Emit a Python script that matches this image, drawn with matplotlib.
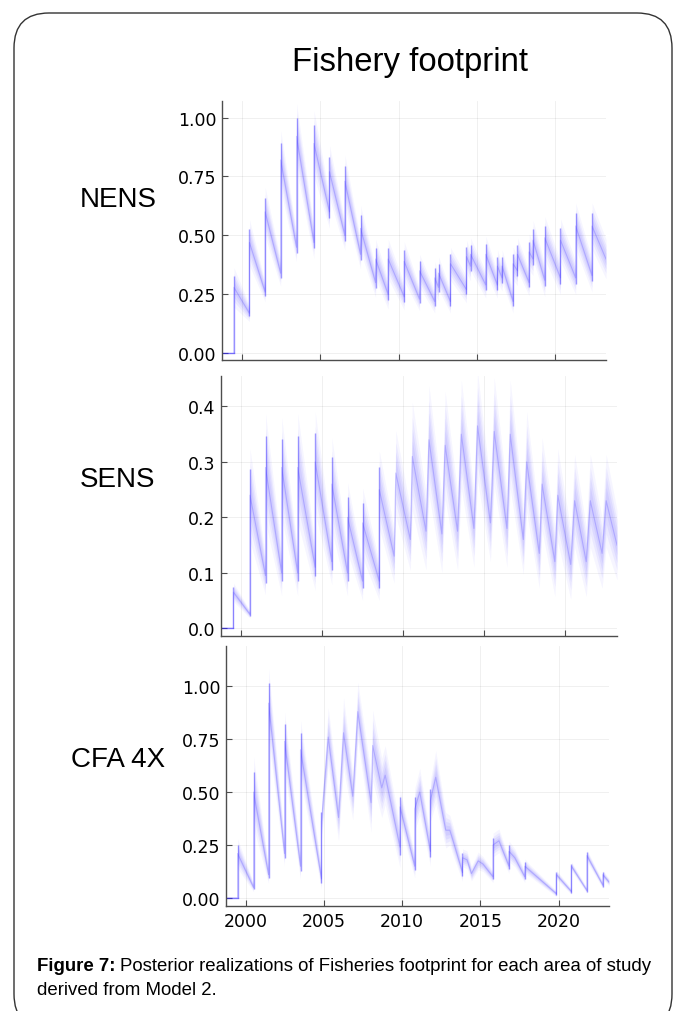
import matplotlib.pyplot as plt
import numpy as np
from matplotlib.patches import FancyBboxPatch
from matplotlib.transforms import IdentityTransform

# knots of the central realisation: time, value, half-width of the band of draws
nens_t = [1998.75, 1999.51, 1999.51, 2000.50, 2000.50, 2001.50, 2001.50, 2002.49, 2002.49, 2003.50,
          2003.50, 2004.61, 2004.61, 2005.60, 2005.60, 2006.58, 2006.58, 2007.58, 2007.58, 2008.54,
          2008.54, 2009.34, 2009.34, 2010.36, 2010.36, 2011.34, 2011.34, 2012.31, 2012.31, 2012.55,
          2012.55, 2013.31, 2013.31, 2014.33, 2014.33, 2014.59, 2014.59, 2015.56, 2015.56, 2016.30,
          2016.30, 2016.60, 2016.60, 2017.30, 2017.30, 2017.58, 2017.58, 2018.32, 2018.32, 2018.57,
          2018.57, 2019.32, 2019.32, 2020.32, 2020.32, 2021.29, 2021.29, 2022.33, 2022.33, 2023.22]
nens_v = [0.00, 0.00, 0.28, 0.17, 0.47, 0.26, 0.60, 0.34, 0.82, 0.45,
          0.92, 0.47, 0.89, 0.60, 0.77, 0.50, 0.73, 0.42, 0.53, 0.30,
          0.40, 0.25, 0.40, 0.24, 0.39, 0.23, 0.35, 0.22, 0.32, 0.28,
          0.34, 0.22, 0.38, 0.27, 0.41, 0.37, 0.42, 0.29, 0.42, 0.29,
          0.37, 0.32, 0.37, 0.22, 0.38, 0.35, 0.42, 0.30, 0.43, 0.40,
          0.48, 0.31, 0.49, 0.32, 0.48, 0.32, 0.54, 0.33, 0.54, 0.40]
nens_w = [0.000, 0.000, 0.060, 0.025, 0.070, 0.030, 0.075, 0.040, 0.090, 0.045,
          0.100, 0.050, 0.100, 0.050, 0.080, 0.045, 0.080, 0.045, 0.070, 0.045,
          0.060, 0.045, 0.060, 0.040, 0.060, 0.035, 0.050, 0.035, 0.050, 0.040,
          0.050, 0.035, 0.050, 0.040, 0.050, 0.045, 0.050, 0.040, 0.055, 0.040,
          0.050, 0.040, 0.050, 0.035, 0.050, 0.045, 0.050, 0.040, 0.055, 0.050,
          0.060, 0.050, 0.065, 0.050, 0.065, 0.050, 0.070, 0.050, 0.070, 0.060]

sens_t = [1998.75, 1999.52, 1999.52, 2000.54, 2000.54, 2001.50, 2001.50, 2002.50, 2002.50, 2003.49,
          2003.49, 2004.57, 2004.57, 2005.60, 2005.60, 2006.57, 2006.57, 2007.50, 2007.50, 2008.53,
          2008.53, 2009.45, 2009.55, 2010.45, 2010.57, 2011.42, 2011.60, 2012.40, 2012.60, 2013.37,
          2013.60, 2014.38, 2014.60, 2015.40, 2015.63, 2016.42, 2016.62, 2017.43, 2017.64, 2018.42,
          2018.59, 2019.38, 2019.56, 2020.36, 2020.60, 2021.32, 2021.57, 2022.30, 2022.55, 2023.22]
sens_v = [0.000, 0.000, 0.065, 0.025, 0.240, 0.095, 0.290, 0.100, 0.290, 0.100,
          0.290, 0.110, 0.300, 0.120, 0.260, 0.100, 0.200, 0.085, 0.190, 0.085,
          0.250, 0.130, 0.280, 0.160, 0.310, 0.175, 0.340, 0.170, 0.330, 0.175,
          0.350, 0.180, 0.365, 0.190, 0.355, 0.180, 0.350, 0.160, 0.300, 0.135,
          0.260, 0.120, 0.240, 0.115, 0.230, 0.120, 0.230, 0.135, 0.230, 0.150]
sens_w = [0.000, 0.000, 0.012, 0.005, 0.060, 0.025, 0.070, 0.030, 0.065, 0.030,
          0.070, 0.030, 0.065, 0.030, 0.060, 0.030, 0.045, 0.025, 0.045, 0.025,
          0.050, 0.035, 0.055, 0.040, 0.070, 0.050, 0.070, 0.050, 0.070, 0.050,
          0.070, 0.050, 0.070, 0.050, 0.070, 0.050, 0.070, 0.045, 0.065, 0.045,
          0.060, 0.045, 0.060, 0.045, 0.060, 0.045, 0.060, 0.045, 0.060, 0.045]

cfa_t = [1998.75, 1999.49, 1999.49, 2000.51, 2000.51, 2001.47, 2001.47, 2002.49, 2002.49, 2003.51,
         2003.51, 2004.85, 2004.85, 2005.28, 2005.94, 2006.26, 2006.85, 2007.17, 2008.02, 2008.12,
         2008.70, 2008.92, 2009.87, 2009.87, 2010.81, 2010.81, 2011.13, 2011.81, 2011.81, 2012.15,
         2012.79, 2013.05, 2013.26, 2013.86, 2013.86, 2014.15, 2014.43, 2014.86, 2015.17, 2015.81,
         2015.81, 2016.19, 2016.83, 2016.83, 2017.20, 2017.84, 2017.84, 2018.15, 2019.86, 2019.86,
         2020.82, 2020.82, 2021.81, 2021.81, 2022.83, 2022.83, 2023.22]
cfa_v = [0.000, 0.000, 0.210, 0.050, 0.500, 0.110, 0.920, 0.210, 0.740, 0.150,
         0.700, 0.090, 0.360, 0.760, 0.380, 0.780, 0.480, 0.880, 0.450, 0.720,
         0.520, 0.580, 0.240, 0.430, 0.150, 0.420, 0.500, 0.220, 0.460, 0.570,
         0.320, 0.320, 0.270, 0.120, 0.190, 0.180, 0.115, 0.175, 0.160, 0.100,
         0.250, 0.270, 0.150, 0.220, 0.190, 0.100, 0.150, 0.130, 0.020, 0.110,
         0.030, 0.150, 0.035, 0.200, 0.060, 0.110, 0.075]
cfa_w = [0.000, 0.000, 0.050, 0.015, 0.120, 0.030, 0.120, 0.045, 0.100, 0.045,
         0.100, 0.035, 0.060, 0.100, 0.080, 0.120, 0.080, 0.100, 0.100, 0.120,
         0.100, 0.100, 0.070, 0.060, 0.040, 0.070, 0.080, 0.050, 0.070, 0.090,
         0.060, 0.050, 0.050, 0.030, 0.030, 0.030, 0.025, 0.030, 0.025, 0.020,
         0.040, 0.040, 0.025, 0.035, 0.030, 0.020, 0.025, 0.020, 0.010, 0.015,
         0.010, 0.015, 0.010, 0.020, 0.012, 0.015, 0.012]

areas = ["NENS", "SENS", "CFA 4X"]
year_ticks = [2000, 2005, 2010, 2015, 2020]
nens_yticks = [0.0, 0.25, 0.5, 0.75, 1.0]
nens_ylabels = ["0.00", "0.25", "0.50", "0.75", "1.00"]
sens_yticks = [0.0, 0.1, 0.2, 0.3, 0.4]
sens_ylabels = ["0.0", "0.1", "0.2", "0.3", "0.4"]
cfa_yticks = [0.0, 0.25, 0.5, 0.75, 1.0]
cfa_ylabels = ["0.00", "0.25", "0.50", "0.75", "1.00"]

W, H = 677, 1012
LINE = (0.2, 0.15, 1.0)
AXC = "#4d4d4d"

fig = plt.figure(figsize=(W / 100, H / 100), dpi=100)


def px_axes(left, top, right, bottom):
    return fig.add_axes([left / W, 1 - bottom / H, (right - left) / W, (bottom - top) / H])


def draw_panel(ax, t, v, w, ylim, yticks, ylabels, show_x):
    t = np.asarray(t)
    v = np.asarray(v)
    w = np.asarray(w)
    # stacked bands imitate the cloud of posterior draws
    for k, a in [(1.4, 0.045), (1.0, 0.06), (0.7, 0.07), (0.4, 0.07)]:
        ax.fill_between(t, v - k * w, v + k * w, color=LINE, alpha=a, lw=0)
    ax.plot(t, v, color=LINE, alpha=0.22, lw=0.8)
    # before the fishery starts every draw sits on zero
    flat = np.where(w == 0)[0]
    ax.plot(t[flat], v[flat], color=LINE, alpha=0.55, lw=1.0)
    # the jumps: all draws stack on the same vertical, so they look darker
    for i in range(len(t) - 1):
        if t[i] == t[i + 1] and v[i + 1] > v[i]:
            ax.vlines(t[i], v[i] - 0.5 * w[i], v[i + 1] + 0.8 * w[i + 1],
                      color=LINE, alpha=0.45, lw=1.0)

    ax.set_xlim(1998.75, 2023.22)
    ax.set_ylim(*ylim)
    ax.set_xticks(year_ticks)
    ax.set_yticks(yticks)
    ax.set_yticklabels(ylabels)
    if not show_x:
        ax.set_xticklabels([])
    ax.grid(True, color="black", alpha=0.07, lw=0.6)
    for s in ["top", "right"]:
        ax.spines[s].set_visible(False)
    for s in ["left", "bottom"]:
        ax.spines[s].set_color(AXC)
        ax.spines[s].set_linewidth(1.0)
    ax.tick_params(direction="in", length=4, width=0.8, color=AXC,
                   labelsize=12.5, labelcolor="black", pad=4)
    for lab in ax.get_xticklabels() + ax.get_yticklabels():
        lab.set_family("DejaVu Sans")


ax1 = px_axes(222, 102, 606, 361)
draw_panel(ax1, nens_t, nens_v, nens_w, (-0.028, 1.07), nens_yticks, nens_ylabels, False)
ax2 = px_axes(221, 377, 617, 637)
draw_panel(ax2, sens_t, sens_v, sens_w, (-0.014, 0.455), sens_yticks, sens_ylabels, False)
ax3 = px_axes(226, 647, 609, 907)
draw_panel(ax3, cfa_t, cfa_v, cfa_w, (-0.038, 1.19), cfa_yticks, cfa_ylabels, True)

for name, yc in zip(areas, [200, 480, 760]):
    fig.text(118 / W, 1 - yc / H, name, ha="center", va="center",
             fontsize=20, family="Liberation Sans")

fig.text(410 / W, 1 - 62 / H, "Fishery footprint", ha="center", va="center",
         fontsize=23.7, family="Liberation Sans")

# rounded page frame
frame = FancyBboxPatch((14, -18), 658, 1016, boxstyle="round,pad=0,rounding_size=35",
                       transform=IdentityTransform(), fill=False, ec="#333333", lw=1.0)
fig.add_artist(frame)

cap1 = fig.text(37 / W, 1 - 967 / H, "Figure 7:", fontsize=13.4, weight="bold",
                family="Liberation Sans", va="center")
renderer = fig.canvas.get_renderer()
bb = cap1.get_window_extent(renderer)
fig.text((bb.x1 + 4) / W, 1 - 967 / H,
         "Posterior realizations of Fisheries footprint for each area of study",
         fontsize=13.4, family="Liberation Sans", va="center")
fig.text(37 / W, 1 - 991 / H, "derived from Model 2.", fontsize=13.4,
         family="Liberation Sans", va="center")

fig.savefig("out.png", dpi=100)
